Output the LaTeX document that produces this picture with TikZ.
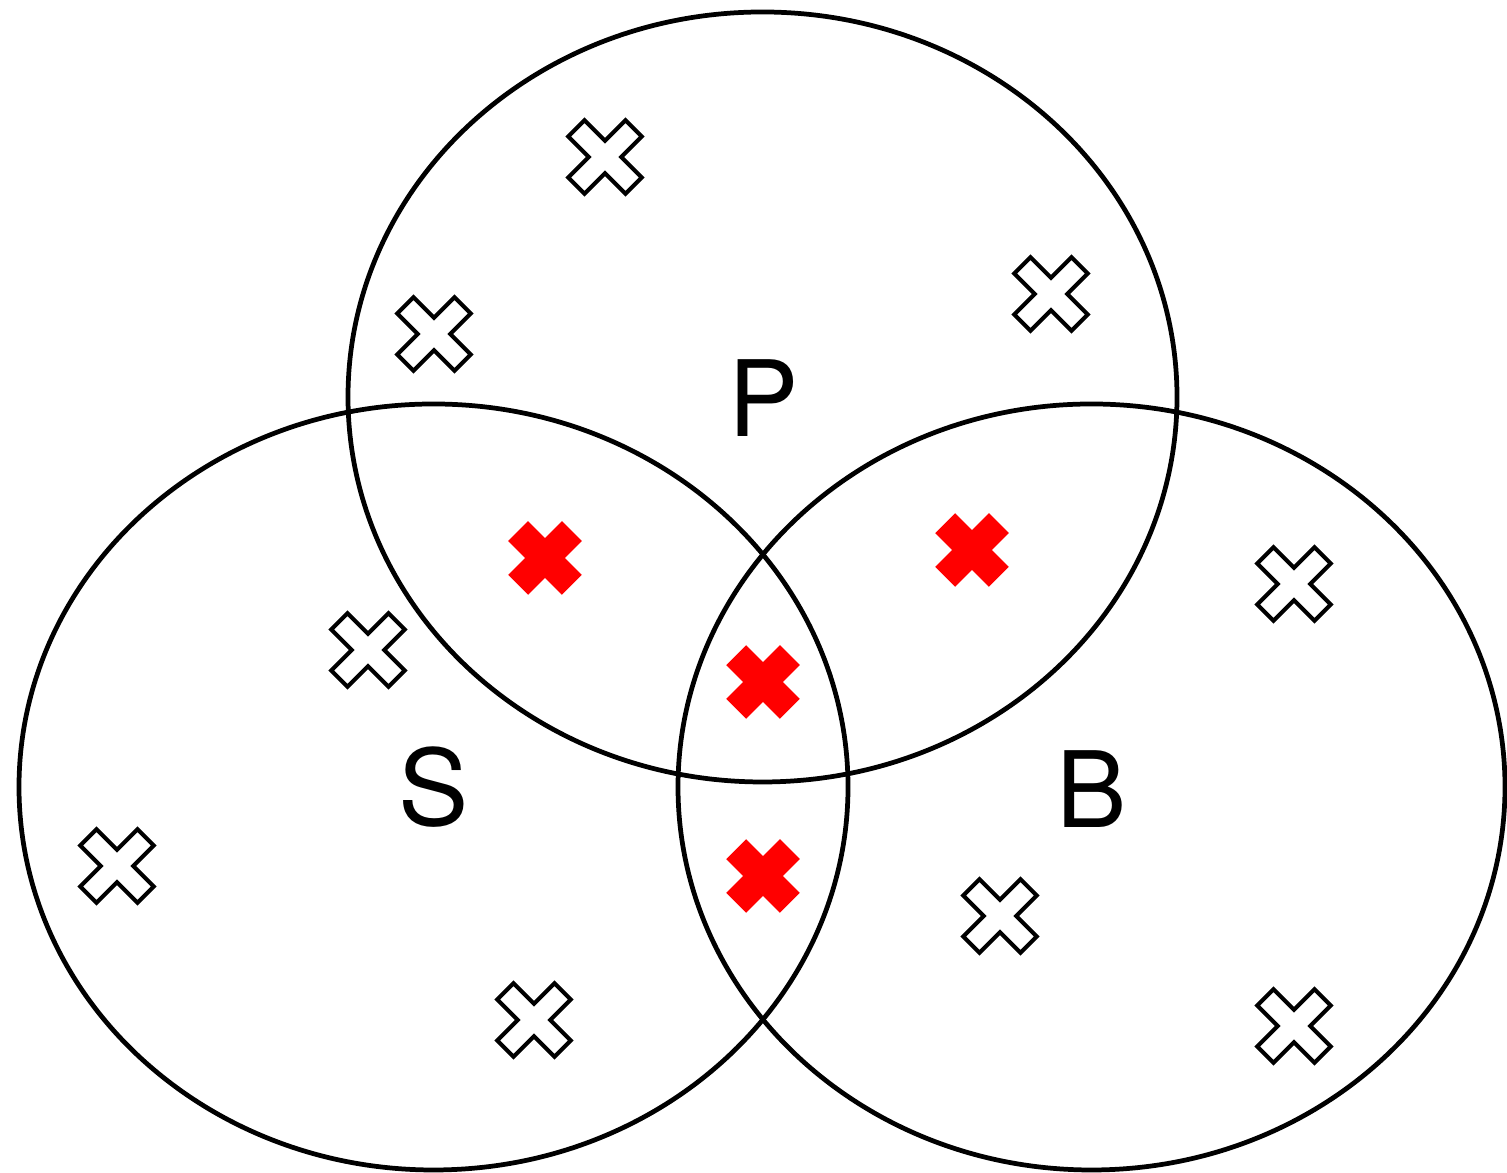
\documentclass[tikz,border=0pt]{standalone}
\usepackage{fontspec}
\setsansfont{TeX Gyre Heros}
\usepackage{tikz}
\usetikzlibrary{calc}

\tikzset{
  xcross/.pic = {
    \path[pic actions, rotate=45] (0.52-#1,#1) -- (#1,#1) -- (#1,0.52-#1) -- (-#1,0.52-#1) -- (-#1,#1) -- (#1-0.52,#1)
      -- (#1-0.52,-#1) -- (-#1,-#1) -- (-#1,#1-0.52) -- (#1,#1-0.52) -- (#1,-#1) -- (0.52-#1,-#1) -- cycle;
  }
}

\begin{document}
\begin{tikzpicture}[ring/.style = {draw, line width=1.35pt}, label/.style = {font=\sffamily\fontsize{30}{36}\selectfont}, 
    hollow/.style = {draw, fill=white, line width=1.15pt, line join=miter}, hit/.style = {fill=red}]
        \useasboundingbox (0,0) rectangle (15.07,11.73);
        \coordinate (cp) at (7.625,7.76);
        \coordinate (cs) at (4.335,3.86);
        \coordinate (cb) at (10.915,3.86);
        \draw[ring] (cp) ellipse [x radius=4.145, y radius=3.85];
        \draw[ring] (cs) ellipse [x radius=4.145, y radius=3.83];
        \draw[ring] (cb) ellipse [x radius=4.135, y radius=3.83];
        \node[label] (P) at (7.64,7.75) {P};
        \node[label] (S) at (4.34,3.86) {S};
        \node[label] (B) at (10.92,3.84) {B};
        % outline crosses
        \foreach \x/\y in {6.05/10.16, 4.34/8.39, 10.51/8.79, 3.68/5.23, 1.17/3.07, 5.34/1.53, 12.94/5.89, 10.00/2.57, 12.94/1.47}
            \pic[hollow] at (\x,\y) {xcross=0.115};
        % red crosses
        \foreach \x/\y in {5.45/6.15, 9.72/6.23, 7.63/4.91, 7.63/2.97}
            \pic[hit] at (\x,\y) {xcross=0.14};
    \end{tikzpicture}
\end{document}
